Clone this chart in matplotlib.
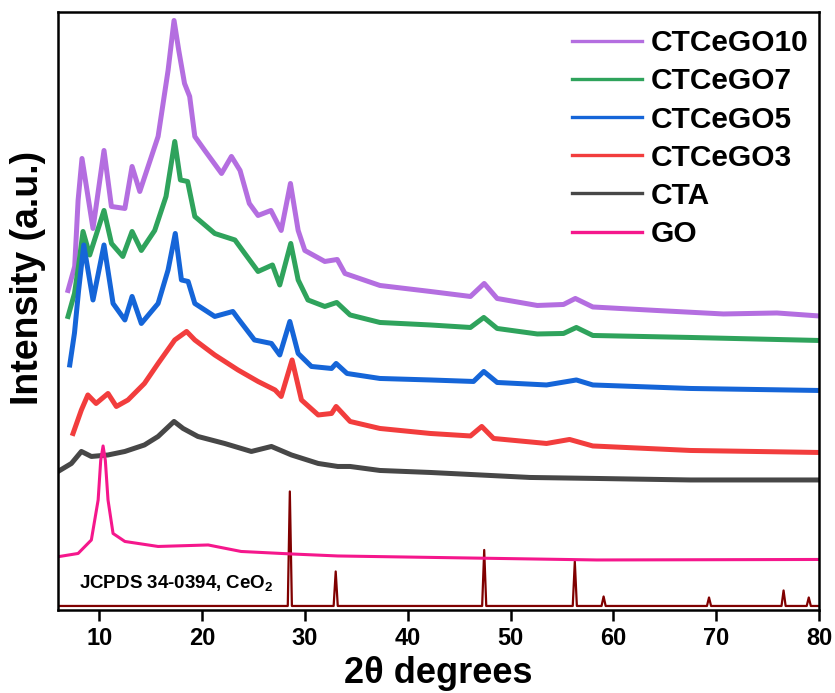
import numpy as np
import matplotlib
matplotlib.use("Agg")
import matplotlib.pyplot as plt
from matplotlib.lines import Line2D

plt.rcParams['font.family'] = ['Liberation Sans', 'DejaVu Sans']
plt.rcParams['font.weight'] = 'bold'
plt.rcParams['mathtext.fontset'] = 'custom'
plt.rcParams['mathtext.rm'] = 'Liberation Sans:bold'
plt.rcParams['mathtext.default'] = 'rm'

# 2theta (deg) and intensity (a.u., already stacked)
purple_x = [6.97, 7.62, 7.95, 8.33, 9.4, 10.47, 11.19, 12.5, 13.2, 13.95, 15.73, 16.7, 17.28, 17.74,
            18.3, 18.8, 19.3, 20.27, 21.9, 22.86, 23.7, 24.6, 25.45, 26.7, 27.7, 28.6, 29.35, 30.0,
            31.94, 33.15, 33.9, 37.3, 42.2, 46.1, 47.44, 48.7, 52.6, 55.15, 56.3, 58.0, 64.2, 70.7,
            75.9, 80.0]
purple_y = [320, 344, 410, 452, 382, 460, 404, 402, 444, 419, 474, 540, 590, 560,
            527, 514, 474, 460, 437, 454, 440, 407, 395, 400, 380, 427, 380, 360,
            349, 351, 337, 325, 319, 314, 327, 312, 305, 306, 312, 303.5, 300, 296.5,
            297.5, 294.5]

green_x = [6.97, 7.6, 8.0, 8.43, 9.08, 10.47, 11.2, 12.3, 13.2, 14.1, 15.4, 16.5, 17.35, 17.9,
           18.6, 19.3, 21.24, 23.2, 24.16, 25.45, 26.85, 27.56, 28.63, 29.35, 30.3, 31.94, 33.1,
           34.4, 37.3, 42.2, 46.1, 47.4, 48.7, 52.6, 55.15, 56.4, 58.0, 67.5, 80.0]
green_y = [294, 317, 345, 379, 355.5, 400, 367, 354, 379, 360, 380, 414, 469, 430.5,
           429, 394, 377, 370.5, 357, 339, 345.5, 325.5, 367, 330.5, 310.5, 304, 308,
           295.5, 288, 285.5, 283, 293, 282, 276.5, 277, 283, 275, 273, 270]

blue_x = [7.14, 7.6, 8.0, 8.5, 9.4, 10.47, 11.35, 12.5, 13.2, 14.1, 15.73, 16.7, 17.4, 18.0,
          18.65, 19.3, 21.24, 23.0, 23.5, 25.1, 26.75, 27.56, 28.54, 29.35, 30.64, 32.6, 33.04,
          34.1, 37.3, 42.2, 46.4, 47.4, 48.7, 53.5, 56.4, 58.0, 67.5, 80.0]
blue_y = [245.5, 277.5, 320, 365.5, 310.5, 365.5, 307, 290.5, 314, 287, 307, 340.5, 377, 330.5,
          329, 307, 294, 299, 292, 270.5, 267, 255.5, 289, 257, 244, 242, 247,
          237, 232, 230.5, 229, 239, 228, 225.5, 230.5, 225.5, 222, 220]

red_x = [7.46, 8.27, 8.9, 9.7, 10.86, 11.67, 12.8, 14.4, 15.73, 17.35, 18.5, 19.3, 21.24, 23.5,
         25.45, 27.1, 27.7, 28.76, 29.67, 31.3, 32.6, 33.04, 34.4, 37.3, 42.2, 46.1, 47.2, 48.35,
         53.5, 55.74, 58.0, 67.5, 80.0]
red_y = [177, 200.5, 215.5, 207, 217, 204, 210.5, 227, 247, 270.5, 279, 270.5, 255.5, 240.5,
         229, 220.5, 214, 250.5, 210.5, 195.5, 197, 204, 189, 182, 177, 174.5, 184, 172,
         167, 171, 164.5, 160, 158]

grey_x = [6.0, 7.3, 8.27, 9.24, 10.86, 12.5, 14.4, 15.73, 17.28, 18.16, 19.6, 22.2, 24.8, 26.75,
          28.7, 31.3, 33.2, 34.4, 37.3, 42.2, 47.05, 51.9, 58.4, 67.5, 80.0]
grey_y = [139, 147, 159, 154, 155.5, 159, 165.5, 174, 189, 182, 174, 167, 159, 164,
          155.5, 147, 144, 144, 140, 138, 135.5, 133, 132, 130.5, 130.5]

pink_x = [6.15, 7.95, 9.24, 9.9, 10.15, 10.38, 10.6, 10.86, 11.35, 12.5, 15.73, 20.6, 23.8,
          28.7, 33.2, 58.4, 80.0]
pink_y = [54, 57, 70.5, 110.5, 150, 164.5, 150, 110.5, 77, 69, 64, 65.5, 59,
          56.5, 54.5, 50.5, 51]

ceo2_x = [6.0, 28.34, 28.54, 28.74, 32.8, 33.0, 33.2, 47.24, 47.44, 47.64, 56.05, 56.25, 56.45,
          58.85, 59.05, 59.25, 69.1, 69.3, 69.5, 76.35, 76.55, 76.75, 78.8, 79.0, 79.2, 80.0]
ceo2_y = [4.5, 4.5, 119, 4.5, 4.5, 39, 4.5, 4.5, 60.5, 4.5, 4.5, 49, 4.5,
          4.5, 14, 4.5, 4.5, 13, 4.5, 4.5, 20, 4.5, 4.5, 13, 4.5, 4.5]

names = ['CTCeGO10', 'CTCeGO7', 'CTCeGO5', 'CTCeGO3', 'CTA', 'GO']
colors = ['#B46EE0', '#2FA35C', '#1565D8', '#F23D3D', '#474747', '#F5178C']

series = [(purple_x, purple_y), (green_x, green_y), (blue_x, blue_y),
          (red_x, red_y), (grey_x, grey_y), (pink_x, pink_y)]

fig = plt.figure(figsize=(8.35, 6.93), dpi=100)
ax = fig.add_axes([0.0695, 0.1191, 0.9114, 0.8629])

ax.plot(ceo2_x, ceo2_y, color='#800000', lw=1.6)
for (x, y), c, n in zip(series, colors, names):
    lw = 2.2 if n == 'GO' else 3.6
    ax.plot(x, y, color=c, lw=lw)

handles = [Line2D([], [], color=c, lw=2.4) for c in colors]
ax.legend(handles, names, loc='upper left', bbox_to_anchor=(0.675, 0.972),
          frameon=False, fontsize=21.5, handlelength=2.35, handletextpad=0.3,
          labelspacing=0.34, borderpad=0, borderaxespad=0)

ax.text(8.0, 27, 'JCPDS 34-0394, CeO$_2$', fontsize=13.5, fontweight='bold',
        va='center', ha='left')

ax.set_xlim(6, 80)
ax.set_ylim(0, 598)
ax.set_xticks([10, 20, 30, 40, 50, 60, 70, 80])
ax.set_yticks([])
ax.tick_params(axis='x', direction='out', length=8, width=1.8, labelsize=17, pad=4)
for lab in ax.get_xticklabels():
    lab.set_fontweight('bold')
for s in ax.spines.values():
    s.set_linewidth(1.8)

ax.set_xlabel('2θ degrees', fontsize=26, fontweight='bold', labelpad=4)
ax.set_ylabel('Intensity (a.u.)', fontsize=27, fontweight='bold')
ax.yaxis.set_label_coords(-0.016, 0.556)

fig.savefig('out.png', dpi=100)
